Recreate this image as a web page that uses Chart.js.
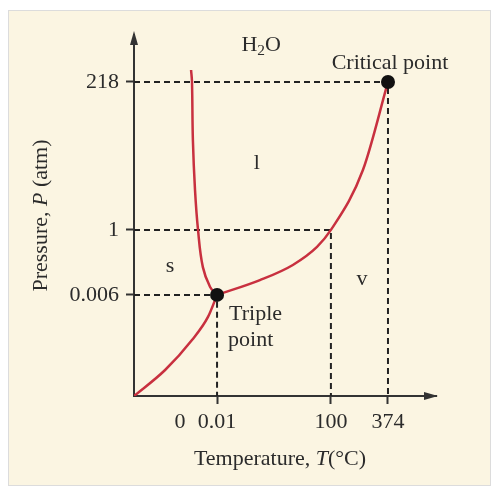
<!DOCTYPE html>
<html>
<head>
<meta charset="utf-8">
<script src="https://cdn.jsdelivr.net/npm/chart.js@4.4.0/dist/chart.umd.min.js"></script>
<style>
  html, body { margin: 0; padding: 0; background: #fff; }
  #wrap { position: relative; width: 491px; height: 489px; }
  #panel { position: absolute; left: 8px; top: 10px; width: 481px; height: 474px; background: #fbf5e2; border: 1px solid #dcdcdc; }
  canvas { position: absolute; left: 0; top: 0; }
</style>
</head>
<body>
<div id="wrap">
  <div id="panel"></div>
  <canvas id="phase" width="491" height="489"></canvas>
</div>
<script>
// Schematic phase diagram: axes are not to scale, so positions are in 0..100 "diagram units"
const xTickPos = [15.2, 27.5, 65.2, 84.1];
const xTickLabels = ['0', '0.01', '100', '374'];
const yTickPos = [28.0, 46.0, 87.0];
const yTickLabels = ['0.006', '1', '218'];

const triplePoint = { x: 27.5, y: 28.0 };
const boilingPoint = { x: 65.2, y: 46.0 };
const criticalPoint = { x: 84.1, y: 87.0 };

// solid / liquid boundary
const fusionX = [27.5, 25.2, 22.8, 21.2, 20.2, 19.5, 19.2, 18.9];
const fusionY = [28.0, 30.2, 35.7, 46.0, 57.1, 70.9, 87.0, 90.3];
// solid / vapour boundary
const sublimationX = [0, 10.3, 19.2, 24.5, 27.5];
const sublimationY = [0, 7.2, 15.5, 21.9, 28.0];
// liquid / vapour boundary
const vaporX = [27.5, 41.7, 52.6, 60.6, 65.2, 75.8, 84.1];
const vaporY = [28.0, 32.1, 36.3, 41.3, 46.0, 62.6, 87.0];

// phase region labels
const regionLabels = ['s', 'l', 'v'];
const regionX = [11.9, 40.7, 75.5];
const regionY = [36.0, 64.5, 32.4];

const RED = '#c8303f';
const INK = '#2b2b2b';
const FONT = '"Liberation Serif", "DejaVu Serif", serif';
const SIZE = 22;

const toPoints = (xs, ys) => xs.map((x, i) => ({ x, y: ys[i] }));
const guide = (p) => [{ x: 0, y: p.y }, { x: p.x, y: p.y }, { x: p.x, y: 0 }];

function curve(xs, ys, monotone) {
  return {
    data: toPoints(xs, ys),
    borderColor: RED,
    borderWidth: 2.5,
    pointRadius: 0,
    tension: 0.4,
    cubicInterpolationMode: monotone ? 'monotone' : 'default',
    order: 1,
  };
}

function dashed(p) {
  return {
    data: guide(p),
    borderColor: '#222',
    borderWidth: 2,
    borderDash: [6, 4],
    pointRadius: 0,
    tension: 0,
    order: 2,
  };
}

// draw a run of text pieces (some italic / subscript) centred on cx, cy
function richText(ctx, parts, cx, cy, size, rotate) {
  ctx.save();
  ctx.translate(cx, cy);
  if (rotate) ctx.rotate(-Math.PI / 2);
  ctx.fillStyle = INK;
  ctx.textBaseline = 'middle';
  ctx.textAlign = 'left';
  let total = 0;
  const widths = parts.map((p) => {
    ctx.font = (p.italic ? 'italic ' : '') + (p.sub ? size * 0.7 : size) + 'px ' + FONT;
    const w = ctx.measureText(p.t).width;
    total += w;
    return w;
  });
  let x = -total / 2;
  parts.forEach((p, i) => {
    ctx.font = (p.italic ? 'italic ' : '') + (p.sub ? size * 0.7 : size) + 'px ' + FONT;
    ctx.fillText(p.t, x, p.sub ? size * 0.28 : 0);
    x += widths[i];
  });
  ctx.restore();
}

const decorations = {
  id: 'decorations',
  afterDraw(chart) {
    const { ctx, chartArea: a, scales } = chart;
    const sx = scales.x, sy = scales.y;

    // axis arrowheads
    ctx.save();
    ctx.fillStyle = '#333';
    ctx.beginPath();
    ctx.moveTo(a.left, a.top - 4);
    ctx.lineTo(a.left - 4, a.top + 10);
    ctx.lineTo(a.left + 4, a.top + 10);
    ctx.closePath();
    ctx.fill();
    ctx.beginPath();
    ctx.moveTo(a.right + 2, a.bottom);
    ctx.lineTo(a.right - 12, a.bottom - 4);
    ctx.lineTo(a.right - 12, a.bottom + 4);
    ctx.closePath();
    ctx.fill();
    ctx.restore();

    // title, annotations and phase labels
    richText(ctx, [{ t: 'H' }, { t: '2', sub: true }, { t: 'O' }], sx.getPixelForValue(42.1), sy.getPixelForValue(97.2), SIZE);

    const cpx = sx.getPixelForValue(criticalPoint.x), cpy = sy.getPixelForValue(criticalPoint.y);
    richText(ctx, [{ t: 'Critical point' }], cpx + 2, cpy - 19, SIZE);

    const tpx = sx.getPixelForValue(triplePoint.x), tpy = sy.getPixelForValue(triplePoint.y);
    ctx.save();
    ctx.fillStyle = INK;
    ctx.font = SIZE + 'px ' + FONT;
    ctx.textBaseline = 'middle';
    ctx.textAlign = 'left';
    ctx.fillText('Triple', tpx + 12, tpy + 19);
    ctx.fillText('point', tpx + 11, tpy + 45);
    ctx.restore();

    regionLabels.forEach((t, i) => {
      richText(ctx, [{ t }], sx.getPixelForValue(regionX[i]), sy.getPixelForValue(regionY[i]), SIZE);
    });

    // axis titles
    richText(ctx, [{ t: 'Temperature, ' }, { t: 'T', italic: true }, { t: '(°C)' }], (a.left + a.right) / 2 - 5, a.bottom + 63, SIZE);
    richText(ctx, [{ t: 'Pressure, ' }, { t: 'P', italic: true }, { t: ' (atm)' }], 41, (a.top + a.bottom) / 2, SIZE, true);
  },
};

new Chart(document.getElementById('phase'), {
  type: 'line',
  data: {
    datasets: [
      {
        data: [triplePoint, criticalPoint],
        showLine: false,
        pointRadius: 7,
        pointBackgroundColor: '#111',
        pointBorderWidth: 0,
        order: 0,
      },
      curve(fusionX, fusionY, false),
      curve(sublimationX, sublimationY, true),
      curve(vaporX, vaporY, true),
      dashed(triplePoint),
      dashed(boilingPoint),
      dashed(criticalPoint),
    ],
  },
  options: {
    responsive: false,
    animation: false,
    events: [],
    layout: { padding: { top: 35, right: 55, left: 0, bottom: 0 } },
    plugins: { legend: { display: false }, tooltip: { enabled: false } },
    scales: {
      x: {
        type: 'linear',
        min: 0,
        max: 100,
        afterFit: (s) => { s.height = 93; },
        afterBuildTicks: (s) => { s.ticks = xTickPos.map((v) => ({ value: v })); },
        border: { display: true, color: '#333', width: 2 },
        grid: {
          drawOnChartArea: false,
          tickLength: 8,
          tickWidth: 2,
          tickColor: (c) => (c.index === 0 ? 'rgba(0,0,0,0)' : '#333'),
        },
        ticks: {
          autoSkip: false,
          maxRotation: 0,
          padding: 5,
          color: INK,
          font: { family: FONT, size: SIZE },
          callback: (v, i) => xTickLabels[i],
        },
      },
      y: {
        type: 'linear',
        min: 0,
        max: 100,
        afterFit: (s) => { s.width = 134; },
        afterBuildTicks: (s) => { s.ticks = yTickPos.map((v) => ({ value: v })); },
        border: { display: true, color: '#333', width: 2 },
        grid: { drawOnChartArea: false, tickLength: 8, tickWidth: 2, tickColor: '#333' },
        ticks: {
          autoSkip: false,
          padding: 7,
          color: INK,
          font: { family: FONT, size: SIZE },
          callback: (v, i) => yTickLabels[i],
        },
      },
    },
  },
  plugins: [decorations],
});
</script>
</body>
</html>
